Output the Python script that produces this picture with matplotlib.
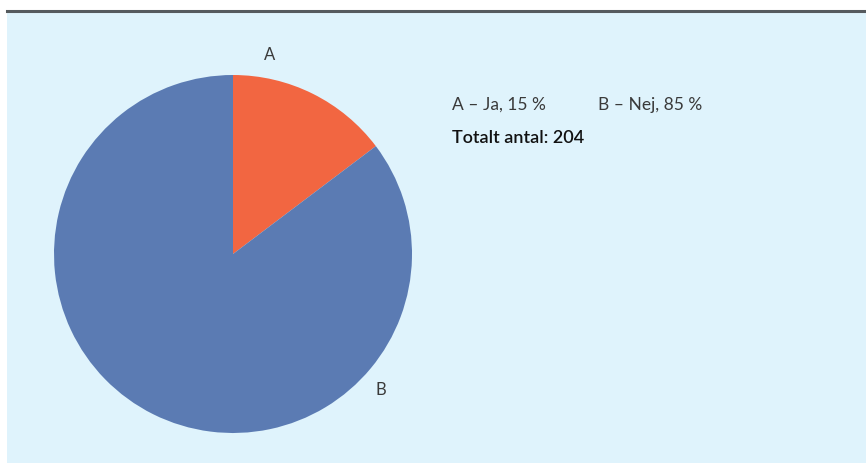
import matplotlib.pyplot as plt
from matplotlib.patches import Rectangle

# Data
labels = ["A", "B"]
answers = ["Ja", "Nej"]
counts = [30, 174]
shares = [15, 85]
total = 204
colors = ["#F26641", "#5B7BB3"]

W, H = 866, 463
fig = plt.figure(figsize=(W / 100, H / 100), dpi=100)
fig.patch.set_facecolor("white")

# light blue panel and the dark rule at the top
fig.patches.append(Rectangle((7 / W, 0), 1 - 7 / W, 1 - 12 / H, transform=fig.transFigure,
                             facecolor="#DFF3FC", edgecolor="none", zorder=-5))
fig.add_artist(plt.Line2D([7 / W, 1], [1 - 10.5 / H, 1 - 10.5 / H], transform=fig.transFigure,
                          color="#555a5e", lw=2.2))

# pie, centre (233, 254) px, radius 179 px
cx, cy, r = 233, 254, 179
ax = fig.add_axes([(cx - r) / W, (H - cy - r) / H, 2 * r / W, 2 * r / H])
ax.set_zorder(2)
ax.pie(counts, colors=colors, startangle=90, counterclock=False, radius=1,
       wedgeprops=dict(linewidth=0))
ax.set_xlim(-1, 1)
ax.set_ylim(-1, 1)
ax.set_aspect("equal")
ax.axis("off")

font = "Lato"
txt_col = "#3a3a3a"
ax.text(37 / r, 199 / r, labels[0], ha="center", va="center", fontsize=12,
        family=font, color=txt_col, clip_on=False)
ax.text(148 / r, -136 / r, labels[1], ha="center", va="center", fontsize=12,
        family=font, color=txt_col, clip_on=False)

# legend text
fig.text(452 / W, 1 - 105 / H, f"{labels[0]} – {answers[0]}, {shares[0]} %", ha="left", va="center",
         fontsize=12.5, family=font, color=txt_col)
fig.text(598 / W, 1 - 105 / H, f"{labels[1]} – {answers[1]}, {shares[1]} %", ha="left", va="center",
         fontsize=12.5, family=font, color=txt_col)
fig.text(452 / W, 1 - 138 / H, f"Totalt antal: {total}", ha="left", va="center",
         fontsize=13, family=font, weight="semibold", color="#111111")

fig.savefig("out.png", dpi=100)
